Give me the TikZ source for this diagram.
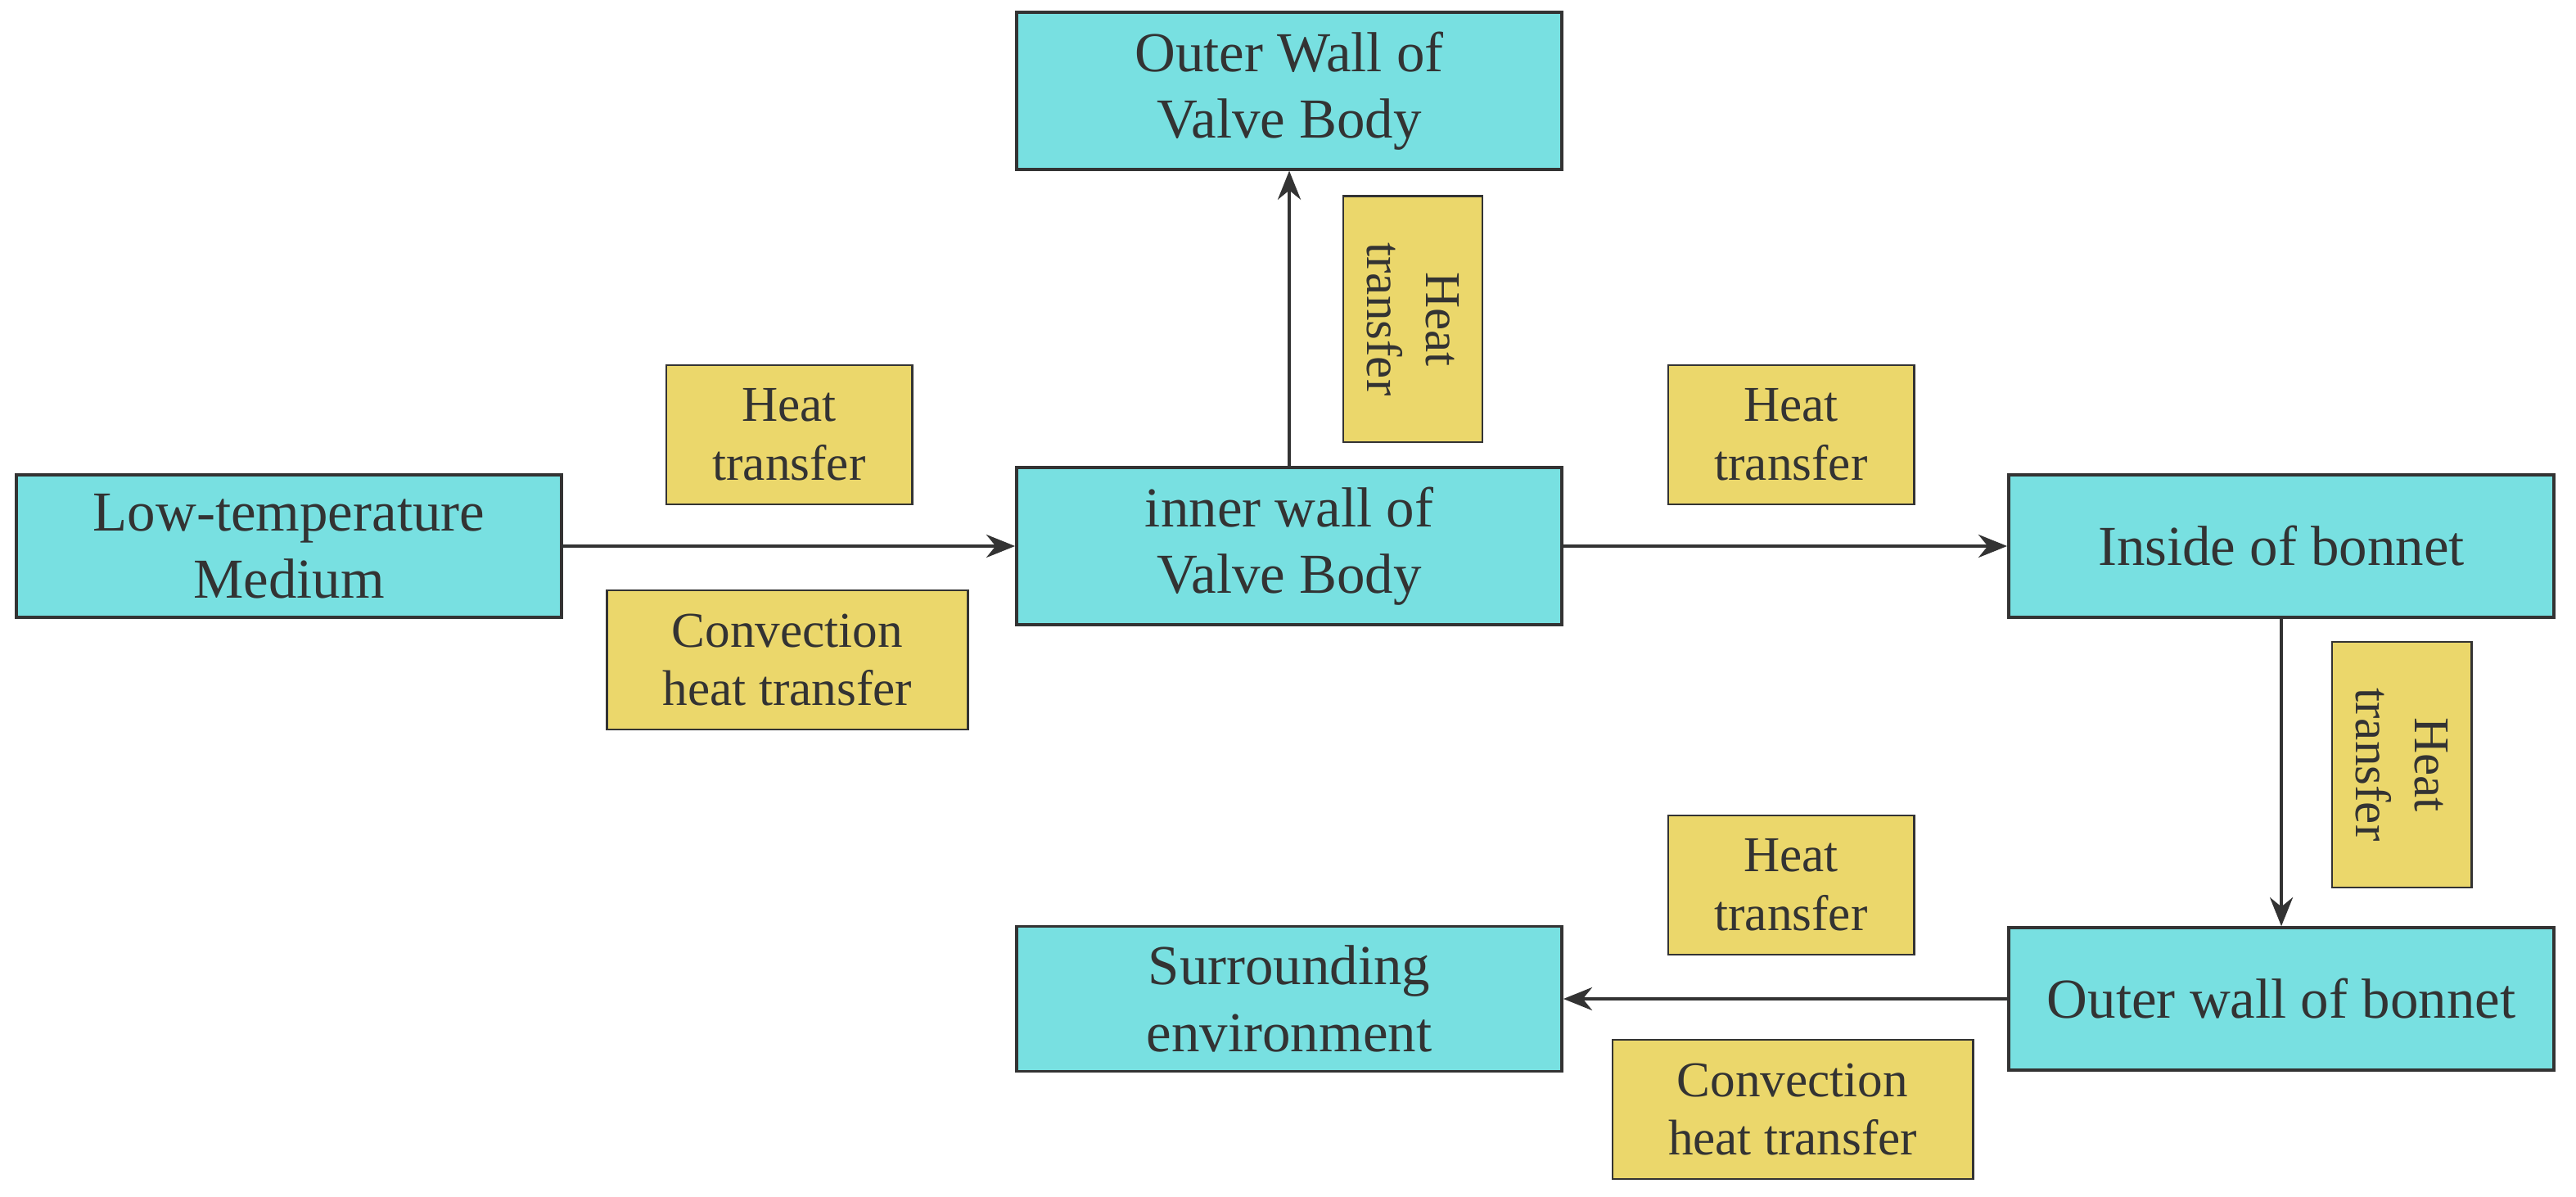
\documentclass[tikz,border=0pt]{standalone}
\usepackage{fontspec}
\setmainfont{Liberation Serif}
\usetikzlibrary{arrows.meta}
\definecolor{cy}{HTML}{78E0E1}
\definecolor{yl}{HTML}{EBD76B}
\begin{document}
\begin{tikzpicture}[x=0.01cm,y=-0.01cm,
 box/.style={draw=black!80,line width=0.5pt,fill=cy,minimum width=3.33cm,minimum height=0.87cm,align=center,font=\fontsize{9.8}{11.6}\selectfont,text=black!80},
 lab/.style={draw=black!80,line width=0.4pt,fill=yl,align=center,font=\fontsize{8.7}{10.2}\selectfont,text=black!80,minimum height=0.85cm},
 arr/.style={draw=black!80,line width=0.5pt,-{Stealth[length=5pt,width=4pt]}}]
\useasboundingbox (0,0) rectangle (1573.5,731);
\node[box] (low) at (176.5,333.5) {Low-temperature\\Medium};
\node[box] (inner) at (787.5,333.5) {inner wall of\\Valve Body};
\node[box] (outer) at (787.5,55.5) {Outer Wall of\\Valve Body};
\node[box] (ins) at (1393.5,333.5) {Inside of bonnet};
\node[box] (obon) at (1393.5,610) {Outer wall of bonnet};
\node[box] (sur) at (787.5,610) {Surrounding\\environment};
\draw[arr] (low) -- (inner);
\draw[arr] (inner) -- (outer);
\draw[arr] (inner) -- (ins);
\draw[arr] (ins) -- (obon);
\draw[arr] (obon) -- (sur);
\node[lab,minimum width=1.5cm] (l1) at (482,265.5) {Heat\\transfer};
\node[lab,minimum width=2.2cm] (l2) at (481,403) {Convection\\heat transfer};
\node[lab,minimum width=1.5cm,rotate=-90] (l3) at (863,195) {Heat\\transfer};
\node[lab,minimum width=1.5cm] (l4) at (1094,265.5) {Heat\\transfer};
\node[lab,minimum width=1.5cm,rotate=-90] (l5) at (1467,467) {Heat\\transfer};
\node[lab,minimum width=1.5cm] (l6) at (1094,540.5) {Heat\\transfer};
\node[lab,minimum width=2.2cm] (l7) at (1095,677.5) {Convection\\heat transfer};
\end{tikzpicture}
\end{document}
